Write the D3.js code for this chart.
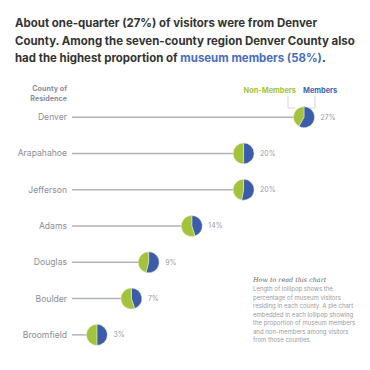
<!DOCTYPE html>
<html><head><meta charset="utf-8">
<script src="https://cdn.jsdelivr.net/npm/d3@7"></script>
<style>body{margin:0;background:#fff}svg{display:block}</style>
</head><body>
<svg id="c" width="370" height="370"></svg>
<script>
const counties = ["Denver","Arapahahoe","Jefferson","Adams","Douglas","Boulder","Broomfield"];
const visitorPct = [27,20,20,14,9,7,3];
const memberPct = [58,50,53,45,54,45,50];
const titleLines = [
  [{t:"About one-quarter (27%) of visitors were from Denver"}],
  [{t:"County. Among the seven-county region Denver County also"}],
  [{t:"had the highest proportion of "},{t:"museum members (58%)",c:"#4a6cc0"},{t:"."}]
];
const noteLines = ["Length of lollipop shows the","percentage of  museum visitors","residing in each county. A pie chart","embedded in each lollipop showing","the proportion of museum members","and non-members among visitors","from those counties."];

const green = "#a3c43a", blue = "#3b5bab";
const svg = d3.select("#c");
const font = "Inter, 'Noto Sans', sans-serif";

// title
const titleG = svg.append("g");
const tLines = titleLines.map((ln,i)=>{
  const t = titleG.append("text").attr("x",15).attr("y",27+i*17.5).attr("font-family",font).attr("font-weight",700).attr("font-size",13).attr("fill","#333");
  ln.forEach(s=>t.append("tspan").text(s.t).attr("fill", s.c||"#333"));
  return t;
});
// fit widest line to 340px
const w2 = tLines[1].node().getComputedTextLength();
const fs = 13*340/w2;
tLines.forEach(t=>t.attr("font-size",fs));

const x = d3.scaleLinear().domain([0,27]).range([71,304]);
const y = d3.scaleBand().domain(counties).range([99,353]);
const r = 10.5;

// header
svg.append("text").attr("x",67).attr("y",91).attr("text-anchor","end").attr("font-family",font).attr("font-weight",700).attr("font-size",7.2).attr("fill","#8a8e99")
  .selectAll("tspan").data(["County of","Residence"]).join("tspan").attr("x",67).attr("dy",(d,i)=>i?10:0).text(d=>d);

const rows = svg.append("g").selectAll("g").data(counties).join("g")
  .attr("transform",d=>`translate(0,${y(d)+y.bandwidth()/2})`);

rows.append("text").attr("x",67).attr("dy","0.35em").attr("text-anchor","end").attr("font-family",font).attr("font-size",8.6).attr("fill","#8a8e99").text(d=>d);
rows.append("line").attr("x1",72).attr("x2",(d,i)=>x(visitorPct[i])).attr("stroke","#b0b3ba").attr("stroke-width",1.5);

const pie = d3.pie().sort(null).value(d=>d);
const arc = d3.arc().innerRadius(0).outerRadius(r);
rows.each(function(d,i){
  const g = d3.select(this).append("g").attr("transform",`translate(${x(visitorPct[i])},0)`);
  const m = memberPct[i];
  g.selectAll("path").data(pie([m,100-m])).join("path").attr("d",arc)
    .attr("fill",(p,k)=>k===0?blue:green).attr("stroke","#e8ecd8").attr("stroke-width",0.5);
  d3.select(this).append("text").attr("x",x(visitorPct[i])+r+6).attr("dy","0.35em").attr("font-family",font).attr("font-size",7).attr("fill","#9a9ca3").text(visitorPct[i]+"%");
});

// legend
const lx = x(visitorPct[0]);
svg.append("text").attr("x",lx-8).attr("y",93).attr("text-anchor","end").attr("font-family",font).attr("font-weight",700).attr("font-size",7.4).attr("fill",green).text("Non-Members");
svg.append("text").attr("x",lx-1).attr("y",93).attr("font-family",font).attr("font-weight",700).attr("font-size",7.4).attr("fill","#3a68b4").text("Members");
svg.append("path").attr("d",`M${lx-16},96V108H${lx-9}`).attr("fill","none").attr("stroke","#c8cbd0").attr("stroke-width",0.8);
svg.append("path").attr("d",`M${lx+11},96V108H${lx+6}`).attr("fill","none").attr("stroke","#c8cbd0").attr("stroke-width",0.8);

// note
svg.append("text").attr("x",253).attr("y",282).attr("font-family","'DejaVu Serif', serif").attr("font-style","italic").attr("font-size",6.4).attr("fill","#666").text("How to read this chart");
svg.append("text").attr("font-family",font).attr("font-size",6).attr("fill","#9a9ca3")
  .selectAll("tspan").data(noteLines).join("tspan").attr("x",253).attr("y",(d,i)=>291+i*8.5).text(d=>d);
</script>
</body></html>
